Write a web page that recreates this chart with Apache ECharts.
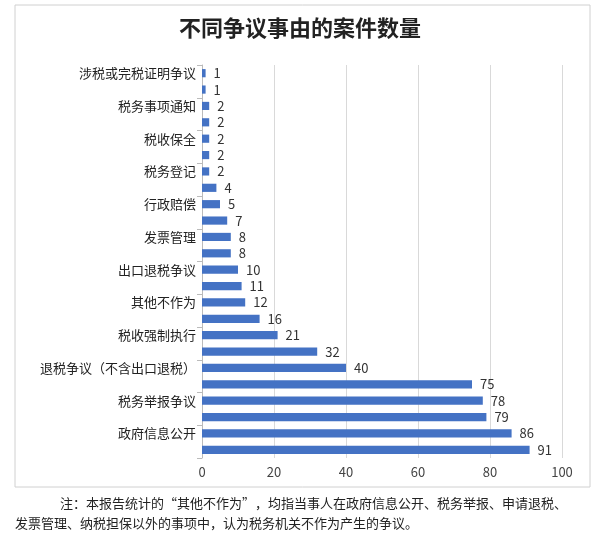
<!DOCTYPE html>
<html><head><meta charset="utf-8">
<script src="https://cdn.jsdelivr.net/npm/echarts@6/dist/echarts.min.js"></script>
<style>body{margin:0;background:#fff}#c{width:600px;height:554px}</style></head>
<body><div id="c"></div>
<script>
const categories = ['涉税或完税证明争议','纳税担保','税务事项通知','税收优惠','税收保全','已证实虚开通知书','税务登记','协助司法执行','行政赔偿','责令限期改正','发票管理','司法拍卖','出口退税争议','其他','其他不作为','二手房争议','税收强制执行','日常征税行为','退税争议（不含出口退税）','社会保险费征收','税务举报争议','应缴未缴补税','政府信息公开','行政处罚'];
const values = [1,1,2,2,2,2,2,4,5,7,8,8,10,11,12,16,21,32,40,75,78,79,86,91];
const xTicks = [0,20,40,60,80,100];
const font = '"Noto Sans CJK SC", sans-serif';
const chart = echarts.init(document.getElementById('c'));
chart.setOption({
  animation:false,
  title:{text:'不同争议事由的案件数量',left:'center',top:12,textStyle:{fontFamily:font,fontSize:22,fontWeight:'bold',color:'#222'}},
  graphic:[
    {type:'rect',shape:{x:15,y:5,width:575,height:482},style:{fill:'none',stroke:'#d0d0d0',lineWidth:1}},
    {type:'text',left:60,top:497,style:{text:'注：本报告统计的“其他不作为”，均指当事人在政府信息公开、税务举报、申请退税、',font:'13px '+font,fill:'#222'}},
    {type:'text',left:15,top:517,style:{text:'发票管理、纳税担保以外的事项中，认为税务机关不作为产生的争议。',font:'13px '+font,fill:'#222'}}
  ],
  grid:{left:202,right:38,top:65,bottom:96},
  xAxis:{type:'value',min:xTicks[0],max:xTicks[xTicks.length-1],interval:20,
    axisLabel:{fontFamily:font,fontSize:13,color:'#444'},
    splitLine:{lineStyle:{color:'#d9d9d9'}},axisLine:{show:false}},
  yAxis:{type:'category',inverse:true,data:categories,
    axisLabel:{fontFamily:font,fontSize:13,color:'#222',margin:6},
    axisTick:{show:true,alignWithLabel:false,lineStyle:{color:'#bbb'}},axisLine:{lineStyle:{color:'#bbb'}}},
  series:[{type:'bar',data:values,barWidth:'50%',itemStyle:{color:'#4472C4'},
    label:{show:true,position:'right',distance:8,fontFamily:font,fontSize:13,color:'#333'}}]
});
</script></body></html>
